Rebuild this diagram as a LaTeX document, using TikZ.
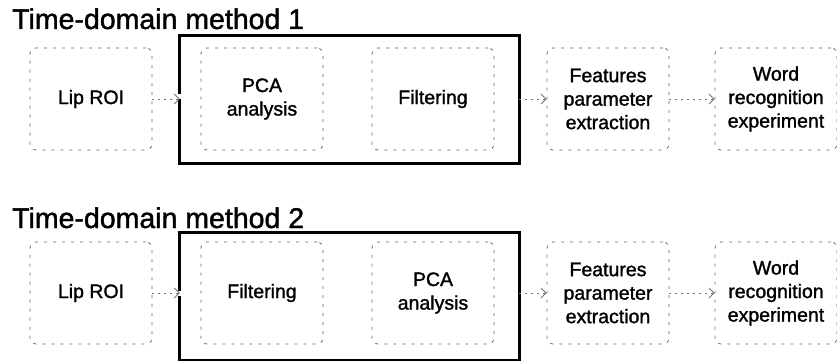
\documentclass[tikz,border=0pt]{standalone}
\usepackage{fontspec}
\setmainfont{Liberation Sans}
\newfontfamily\heavyfont{Liberation Sans}[FakeBold=1.4]
\usetikzlibrary{arrows.meta}
\tikzset{
  stagebox/.style={draw=black!60, line width=0.8pt, dash pattern=on 3pt off 6pt,
    rounded corners=6pt, minimum width=122pt, minimum height=102pt,
    align=center, inner sep=0pt, font=\heavyfont\fontsize{19.5}{23.5}\selectfont},
  groupbox/.style={draw=none, minimum width=339pt, minimum height=127pt, inner sep=0pt},
  groupline/.style={line width=3pt, line cap=rect},
  heading/.style={anchor=base west, inner sep=0pt, font=\heavyfont\fontsize{28.5}{32}\selectfont},
  flow/.style={draw=black!55, line width=0.8pt, dash pattern=on 2pt off 4pt,
    -{Straight Barb[length=5pt,width=10pt]}}
}
\begin{document}
\begin{tikzpicture}[x=1pt,y=-1pt]
\useasboundingbox (0,0) rectangle (837,361);

% ---- method 1: PCA first, then filtering ----
\node[heading] (t1) at (12,29) {Time-domain method 1};
\node[groupbox] (g1) at (349.5,99.5) {};
\draw[groupline] ([yshift=7pt]g1.west) |- (g1.north east) |- (g1.south west) -- ([yshift=-1pt]g1.west);

\node[stagebox] (lip1)  at (91,99)  {Lip ROI};
\node[stagebox] (pca1)  at (262,99) {PCA\\analysis};
\node[stagebox] (filt1) at (433,99) {Filtering};
\node[stagebox] (feat1) at (608,99) {Features\\parameter\\extraction};
\node[stagebox] (word1) at (776,99) {Word\\recognition\\experiment};

\draw[flow] (lip1.east) -- (lip1.east -| g1.west);
\draw[flow] (filt1.east -| g1.east) -- (feat1.west);
\draw[flow] (feat1.east) -- (word1.west);

% ---- method 2: filtering first, then PCA ----
\node[heading] (t2) at (12,228) {Time-domain method 2};
\node[groupbox] (g2) at (349.5,296.5) {};
\draw[groupline] ([yshift=7pt]g2.west) |- (g2.north east) |- (g2.south west) -- ([yshift=-1pt]g2.west);

\node[stagebox] (lip2)  at (91,293)  {Lip ROI};
\node[stagebox] (filt2) at (262,293) {Filtering};
\node[stagebox] (pca2)  at (433,293) {PCA\\analysis};
\node[stagebox] (feat2) at (608,293) {Features\\parameter\\extraction};
\node[stagebox] (word2) at (776,293) {Word\\recognition\\experiment};

\draw[flow] (lip2.east) -- (lip2.east -| g2.west);
\draw[flow] (pca2.east -| g2.east) -- (feat2.west);
\draw[flow] (feat2.east) -- (word2.west);
\end{tikzpicture}
\end{document}
